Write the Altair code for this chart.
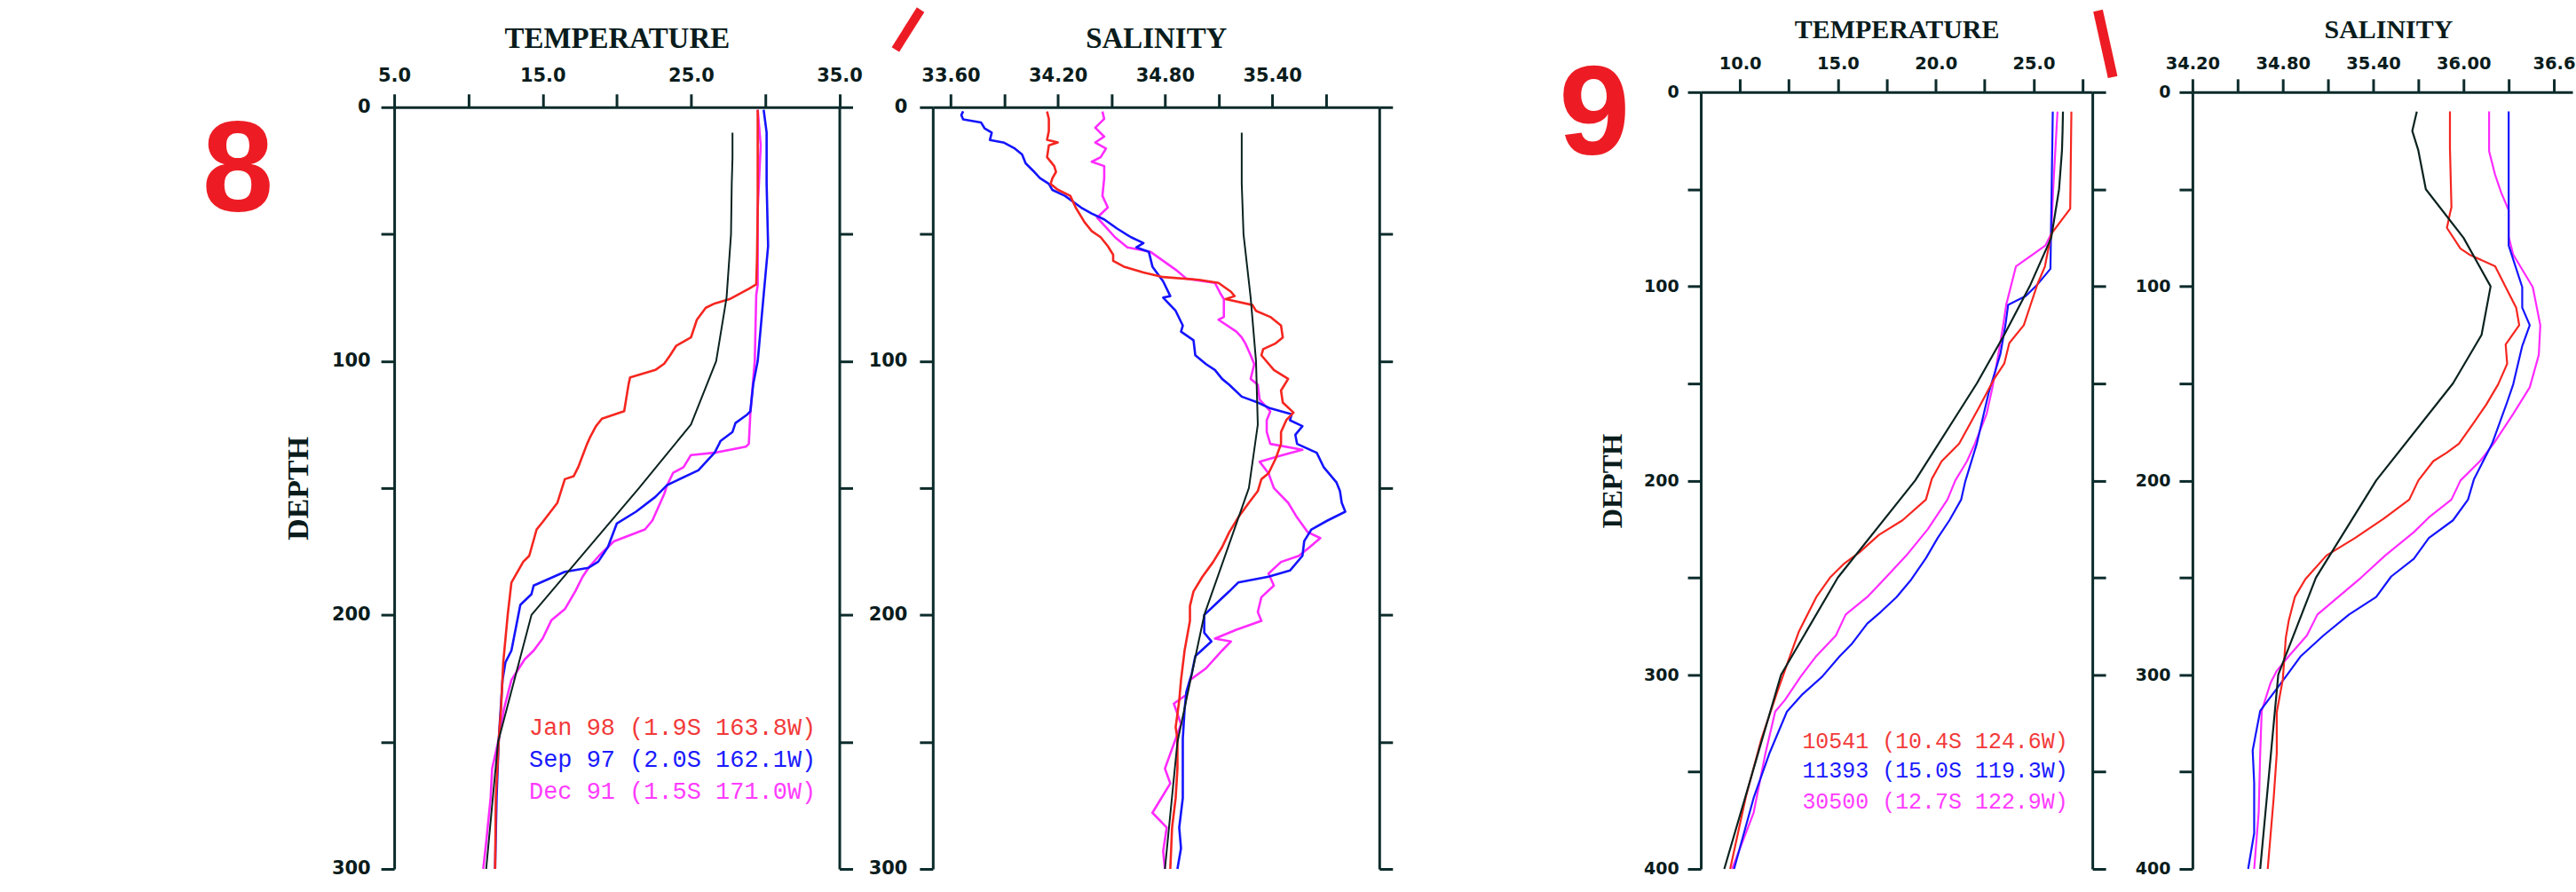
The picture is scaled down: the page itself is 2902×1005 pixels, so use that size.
import altair as alt
import pandas as pd

# ================= PANEL 8 (temperature / salinity vs depth, 0-300 m) =================
CLIM8_DEPTH = [10, 20, 30, 50, 75, 100, 125, 150, 200, 250, 300]
CLIM8_TEMP = [27.8, 27.8, 27.75, 27.7, 27.4, 26.7, 25.0, 21.5, 14.25, 12.0, 11.2]
CLIM8_SALT = [35.23, 35.23, 35.23, 35.24, 35.28, 35.31, 35.32, 35.27, 35.02, 34.87, 34.80]

T8_JAN98_DEPTH = [1, 20, 40, 60, 69.8, 71.5, 75.6, 77.3, 79, 83.7, 90.7, 94, 97.7, 101, 103.5, 106.4,
                  109, 119.7, 122.7, 125.6, 130, 132.6, 141.8, 145.3, 146.5, 155.8, 163.4, 166.3,
                  176.7, 179, 187.2, 200, 218.6, 237, 248.8, 272, 300]
T8_JAN98 = [29.5, 29.5, 29.5, 29.45, 29.4, 28.9, 27.6, 26.6, 26.0, 25.4, 25.0, 24.0, 23.6, 23.2, 22.6, 20.9,
            20.8, 20.5, 19.0, 18.6, 18.2, 18.0, 17.4, 17.1, 16.5, 16.0, 15.0, 14.6,
            14.1, 13.7, 12.9, 12.65, 12.35, 12.2, 12.05, 11.85, 11.8]

T8_SEP97_DEPTH = [1, 10, 30, 54.7, 74, 100, 109, 119.8, 121, 124.4, 127.9, 131.4, 132.6, 136, 143, 148.8,
                  153.5, 159.3, 164, 173.3, 179, 181.4, 183, 188.4, 191.8, 196, 202, 214, 218.6, 225.6,
                  248.8, 272, 300]
T8_SEP97 = [29.9, 30.1, 30.1, 30.2, 29.9, 29.5, 29.2, 29.0, 28.8, 28.0, 27.8, 27.0, 26.9, 26.6, 25.5, 23.4,
            22.6, 21.3, 20.0, 19.4, 18.75, 18.1, 16.5, 14.4, 14.25, 13.5, 13.3, 12.9, 12.5, 12.3,
            12.05, 11.9, 11.8]

T8_DEC91_DEPTH = [1, 15, 40, 70, 74, 100, 121, 132.6, 133.7, 136, 137, 141.8, 144, 148.8, 152.3, 162.8,
                  166.3, 171, 176.7, 181.4, 184.9, 190.7, 197.7, 202, 209.3, 214, 217.4, 225.6, 237,
                  248.8, 260.5, 272, 289.5, 300]
T8_DEC91 = [29.5, 29.7, 29.5, 29.5, 29.4, 29.3, 29.0, 28.9, 28.7, 26.7, 25.0, 24.5, 23.8, 23.4, 23.2, 22.4,
            21.9, 19.8, 18.8, 18.1, 17.7, 17.2, 16.5, 15.6, 15.0, 14.4, 13.8, 12.9, 12.4,
            12.05, 11.6, 11.5, 11.2, 11.0]

S8_JAN98_DEPTH = [1.7, 4.6, 9.3, 12.8, 13.9, 15.0, 19.7, 23.2, 25.5, 27.9, 30.2, 32.5, 34.9, 39.5, 45.3,
                  48.8, 51.2, 54.7, 58.1, 60.5, 62.8, 65.1, 66.9, 68.0, 69.2, 72.7, 74.4, 75.6, 77.9,
                  80.2, 82.6, 86.0, 90.7, 93.0, 95.3, 97.7, 103.5, 107.0, 111.6, 116.3, 120.3, 123.2,
                  127.9, 132.6, 138.4, 144.2, 146.5, 151.2, 155.8, 161.6, 167.4, 173.3, 179.1, 184.9,
                  190.7, 196.5, 202.3, 214.0, 225.6, 233.7, 244.2, 248.8, 260.5, 272.1, 283.7, 300]
S8_JAN98 = [34.14, 34.15, 34.15, 34.14, 34.20, 34.15, 34.14, 34.18, 34.19, 34.17, 34.16, 34.20, 34.27,
            34.30, 34.35, 34.39, 34.44, 34.48, 34.51, 34.51, 34.57, 34.68, 34.79, 34.99, 35.10, 35.17,
            35.19, 35.14, 35.29, 35.31, 35.39, 35.45, 35.46, 35.42, 35.35, 35.34, 35.41, 35.49, 35.45,
            35.46, 35.52, 35.48, 35.45, 35.45, 35.42, 35.38, 35.34, 35.32, 35.27, 35.21, 35.16, 35.12,
            35.07, 35.01, 34.96, 34.94, 34.94, 34.91, 34.89, 34.88, 34.86, 34.87, 34.87, 34.86, 34.84,
            34.83]

S8_SEP97_DEPTH = [1.6, 3.1, 4.8, 6.0, 8.3, 10.0, 12.9, 14.0, 16.3, 18.6, 22.1, 25.6, 27.9, 30.2, 32.6,
                  34.9, 39.5, 41.9, 44.2, 47.7, 51.2, 53.5, 55.2, 57.0, 62.8, 68.6, 74.4, 75.0, 80.2,
                  86.0, 88.4, 91.8, 97.7, 101.2, 103.5, 107.0, 109.3, 114.0, 116.3, 118.6, 120.9, 123.3,
                  125.6, 129.0, 132.6, 136.1, 141.9, 147.7, 151.2, 155.8, 159.3, 162.8, 166.3, 170.9,
                  176.7, 182.5, 184.9, 187.2, 190.7, 195.3, 200.0, 207.0, 210.4, 216.2, 223.2, 230.2,
                  237.2, 248.8, 260.5, 272.1, 283.7, 291.9, 300]
S8_SEP97 = [33.67, 33.66, 33.67, 33.77, 33.79, 33.83, 33.82, 33.90, 33.96, 34.00, 34.02, 34.07, 34.10,
            34.15, 34.17, 34.24, 34.33, 34.39, 34.46, 34.53, 34.61, 34.68, 34.64, 34.71, 34.73, 34.79,
            34.83, 34.79, 34.86, 34.90, 34.89, 34.96, 34.97, 35.03, 35.08, 35.12, 35.16, 35.23, 35.32,
            35.39, 35.51, 35.50, 35.57, 35.53, 35.54, 35.65, 35.69, 35.76, 35.78, 35.79, 35.81, 35.71,
            35.62, 35.58, 35.57, 35.50, 35.38, 35.21, 35.16, 35.09, 35.02, 35.02, 35.06, 34.97, 34.95,
            34.92, 34.91, 34.90, 34.90, 34.90, 34.88, 34.89, 34.87]

S8_DEC91_DEPTH = [1.7, 4.6, 8.1, 11.6, 13.9, 16.3, 19.7, 21.5, 23.2, 27.9, 34.9, 39.5, 43.5, 46.5, 51.2,
                  55.2, 57.0, 60.5, 64.0, 67.5, 69.2, 73.3, 75.6, 82.6, 83.7, 88.4, 90.7, 93.0, 97.7,
                  101.2, 107.0, 109.3, 115.1, 119.8, 123.3, 127.9, 132.6, 134.9, 137.2, 139.6, 144.2,
                  150.0, 155.8, 161.6, 167.4, 169.7, 173.3, 176.7, 179.1, 183.7, 188.4, 193.0, 198.8,
                  202.3, 205.8, 209.3, 210.4, 214.0, 221.0, 225.6, 231.4, 234.9, 243.0, 254.6, 260.5,
                  266.3, 277.9, 283.7, 293.0, 300]
S8_DEC91 = [34.45, 34.46, 34.41, 34.46, 34.41, 34.47, 34.44, 34.39, 34.46, 34.46, 34.45, 34.48, 34.42,
            34.46, 34.52, 34.59, 34.72, 34.79, 34.86, 34.92, 35.08, 35.11, 35.13, 35.13, 35.10, 35.20,
            35.23, 35.25, 35.28, 35.30, 35.28, 35.32, 35.33, 35.39, 35.37, 35.37, 35.39, 35.57, 35.45,
            35.33, 35.38, 35.41, 35.49, 35.54, 35.60, 35.67, 35.61, 35.55, 35.45, 35.38, 35.41, 35.34,
            35.32, 35.34, 35.20, 35.08, 35.17, 35.12, 35.03, 34.94, 34.92, 34.85, 34.89, 34.83, 34.80,
            34.83, 34.73, 34.81, 34.79, 34.80]

LEGEND8 = ["Jan 98 (1.9S 163.8W)", "Sep 97 (2.0S 162.1W)", "Dec 91 (1.5S 171.0W)"]

# ================= PANEL 9 (temperature / salinity vs depth, 0-400 m) =================
CLIM9_DEPTH = [10, 20, 30, 50, 75, 100, 125, 150, 200, 250, 300, 400]
CLIM9_TEMP = [26.5, 26.48, 26.45, 26.3, 25.9, 24.8, 23.5, 22.1, 18.95, 15.0, 12.1, 9.2]
CLIM9_SALT = [35.69, 35.66, 35.70, 35.75, 36.00, 36.18, 36.12, 35.93, 35.42, 35.02, 34.77, 34.65]

T9_10541_DEPTH = [10, 60, 73, 89.7, 98.8, 120, 129.2, 139.8, 147.4, 162.6, 181, 190.1, 199.2, 209.8,
                  220.5, 228, 237, 243, 250, 260, 278, 292, 309, 333, 363, 400]
T9_10541 = [26.93, 26.87, 25.9, 25.58, 25.2, 24.5, 23.76, 23.5, 23.0, 22.2, 21.2, 20.3, 19.8, 19.5,
            18.3, 17.1, 16.1, 15.3, 14.6, 13.9, 13.0, 12.5, 11.9, 11.1, 10.3, 9.5]

T9_11393_DEPTH = [10, 91, 99, 105, 109.5, 120, 135, 155, 181, 200.8, 209.8, 220.5, 229.6, 240, 251, 260,
                  267.6, 273.7, 284.3, 290.4, 301, 310, 319, 340.6, 363.4, 400]
T9_11393 = [25.98, 25.86, 25.2, 24.6, 23.7, 23.56, 23.3, 22.7, 22.1, 21.5, 21.3, 20.7, 20.1, 19.5, 18.75,
            18.0, 17.2, 16.5, 15.7, 15.1, 14.2, 13.2, 12.4, 11.5, 10.7, 9.7]

T9_30500_DEPTH = [10, 50, 73, 79, 89.7, 109.5, 123, 135, 152, 165.7, 181, 190, 200, 209.8, 225, 238.6,
                  249.4, 260, 269, 279.8, 290.4, 301, 313, 319, 340.6, 371, 400]
T9_30500 = [26.22, 26.0, 25.9, 25.6, 24.1, 23.6, 23.4, 23.2, 22.9, 22.6, 22.0, 21.6, 21.0, 20.6, 19.6,
            18.5, 17.5, 16.5, 15.4, 14.9, 13.9, 13.1, 12.3, 11.8, 11.3, 10.7, 9.6]

S9_10541_DEPTH = [9.9, 28.9, 59.3, 62.5, 69.9, 80.6, 83.7, 89.7, 101.9, 111, 120, 130, 139.9, 150.5, 161,
                  170, 181, 185.6, 190, 200, 209.8, 219.6, 229.6, 238.6, 250.8, 260, 272, 281, 302.5,
                  319.3, 340.6, 363, 400]
S9_10541 = [35.91, 35.91, 35.92, 35.91, 35.89, 35.98, 36.04, 36.21, 36.29, 36.35, 36.37, 36.28, 36.29,
            36.23, 36.15, 36.07, 35.97, 35.89, 35.80, 35.70, 35.64, 35.47, 35.28, 35.09, 34.95, 34.88,
            34.84, 34.82, 34.80, 34.76, 34.76, 34.74, 34.70]

S9_11393_DEPTH = [9.9, 59.3, 79, 100.4, 111, 120, 130.7, 150.5, 159.6, 181, 199.2, 209.8, 220.5, 229.6,
                  240.3, 249.4, 260, 269, 279.8, 290.4, 301, 318.6, 339, 355.8, 381.6, 400]
S9_11393 = [36.30, 36.30, 36.30, 36.39, 36.39, 36.44, 36.39, 36.33, 36.29, 36.19, 36.07, 36.03, 35.93,
            35.77, 35.67, 35.52, 35.42, 35.24, 35.07, 34.92, 34.82, 34.65, 34.60, 34.61, 34.61, 34.57]

S9_30500_DEPTH = [9.9, 25.9, 30.4, 42.6, 51.7, 60.8, 74.5, 83.6, 100.4, 120, 135.3, 152, 165.7, 181, 190,
                  200, 209.8, 219, 226.6, 238.6, 250, 269, 279.8, 290.4, 298, 304, 318.6, 340.6, 371, 400]
S9_30500 = [36.17, 36.17, 36.17, 36.21, 36.25, 36.30, 36.30, 36.33, 36.46, 36.51, 36.50, 36.44, 36.33,
            36.20, 36.11, 35.98, 35.92, 35.77, 35.67, 35.48, 35.32, 35.03, 34.96, 34.84, 34.76, 34.72,
            34.66, 34.65, 34.64, 34.61]

LEGEND9 = ["10541 (10.4S 124.6W)", "11393 (15.0S 119.3W)", "30500 (12.7S 122.9W)"]

# ================= axes =================
TEMP8_TICKS = [5, 10, 15, 20, 25, 30, 35]
TEMP8_LABELS = ["5.0", "15.0", "25.0", "35.0"]
SALT8_TICKS = [33.6, 33.9, 34.2, 34.5, 34.8, 35.1, 35.4, 35.7]
SALT8_LABELS = ["33.60", "34.20", "34.80", "35.40"]
TEMP9_TICKS = [10, 12.5, 15, 17.5, 20, 22.5, 25, 27.5]
TEMP9_LABELS = ["10.0", "15.0", "20.0", "25.0"]
SALT9_TICKS = [34.2, 34.5, 34.8, 35.1, 35.4, 35.7, 36.0, 36.3, 36.6]
SALT9_LABELS = ["34.20", "34.80", "35.40", "36.00", "36.6"]   # last one is cut by the picture's edge
DEPTH8_TICKS = [0, 50, 100, 150, 200, 250, 300]
DEPTH9_TICKS = [0, 50, 100, 150, 200, 250, 300, 350, 400]

# ================= style =================
AXIS_COLOR = "#0c2b2b"
TEXT_COLOR = "#0a1c1c"
LINE_COLORS = {"red": "#f5261f", "blue": "#1414ff", "magenta": "#ff2bff"}
LEGEND_COLORS = ["#f23a3a", "#1a1aff", "#ff3cff"]
CLIM_COLOR = "#0b2320"
NUM_RED = "#ed1c24"
ONE = pd.DataFrame({"k": [0]})


def long_df(series):
    rows = []
    for name, depths, vals in series:
        assert len(depths) == len(vals), name
        for d, v in zip(depths, vals):
            rows.append({"series": name, "depth": d, "value": v})
    return pd.DataFrame(rows)


def label_expr(labels, fmt):
    # formatted tick value -> shown label; blank for unlabelled ticks
    parts = []
    for lab in labels:
        key = format(float(lab), fmt)
        parts.append("format(datum.value, '%s') == '%s' ? '%s'" % (fmt, key, lab))
    return " : ".join(parts) + " : ''"


def common_axis(label_size):
    return dict(domainColor=AXIS_COLOR, domainWidth=3, tickColor=AXIS_COLOR, tickWidth=3, tickSize=15,
                grid=False, labelFlush=False, labelOverlap=False, labelFont="DejaVu Sans",
                labelFontWeight="bold", labelColor=TEXT_COLOR, labelFontSize=label_size,
                titleFont="Liberation Serif", titleFontWeight="bold", titleColor=TEXT_COLOR)


def make_panel(series, clim_depth, clim_vals, xdom, xticks, xlabels, xfmt, dmax, dticks, yrange,
               width, height, st, extras, right_axis=True):
    df = long_df(series)
    clim = pd.DataFrame({"depth": clim_depth, "value": clim_vals})
    xscale = alt.Scale(domain=xdom, nice=False, zero=False)
    yscale = alt.Scale(domain=[0, dmax], range=yrange, nice=False, zero=False)
    cx = common_axis(st["xlabel_size"])
    cy = common_axis(st["ylabel_size"])

    def x_axis():
        return alt.Axis(orient="top", offset=st["x_offset"], values=xticks,
                        labelExpr=label_expr(xlabels, xfmt), labelPadding=st["xlabel_pad"],
                        labelBaseline="alphabetic", title=st["title"], titleFontSize=st["title_size"],
                        titleX=st.get("title_x", width / 2), titleY=st["title_y"], titleAlign="center",
                        titleBaseline="alphabetic", **cx)

    def y_axis():
        ykw = dict(orient="left", values=dticks,
                   labelExpr="datum.value % 100 == 0 ? format(datum.value, 'd') : ''",
                   labelPadding=st["ylabel_pad"], **cy)
        if st.get("depth_title"):
            ykw.update(title=st["depth_title"], titleFontSize=st["depth_title_size"], titleAngle=270,
                       titleX=st["depth_title_x"], titleY=(yrange[0] + yrange[1]) / 2,
                       titleAlign="center", titleBaseline="middle")
        else:
            ykw.update(title="")
        return alt.Axis(**ykw)

    names = ["magenta", "blue", "red"]
    lines = alt.Chart(df).mark_line(strokeWidth=st["lw"], strokeJoin="round").encode(
        x=alt.X("value:Q", scale=xscale, axis=x_axis()),
        y=alt.Y("depth:Q", scale=yscale, axis=y_axis()),
        color=alt.Color("series:N", scale=alt.Scale(domain=names, range=[LINE_COLORS[n] for n in names]),
                        legend=None),
        order=alt.Order("depth:Q"),
    )
    black = alt.Chart(clim).mark_line(strokeWidth=st["clim_lw"], color=CLIM_COLOR, strokeJoin="round").encode(
        x=alt.X("value:Q", scale=xscale, axis=x_axis()),
        y=alt.Y("depth:Q", scale=yscale, axis=y_axis()),
        order=alt.Order("depth:Q"),
    )
    inner = alt.layer(lines, black, *extras)
    if not right_axis:
        return inner.properties(width=width, height=height)
    right = alt.Chart(pd.DataFrame({"depth": [0, dmax]})).mark_point(opacity=0).encode(
        y=alt.Y("depth:Q", scale=yscale,
                axis=alt.Axis(orient="right", values=dticks, labels=False, title="", **cy))
    )
    return alt.layer(inner, right).resolve_scale(y="independent").properties(width=width, height=height)


def legend_layers(texts, x, ys, size):
    out = []
    for t, y, c in zip(texts, ys, LEGEND_COLORS):
        out.append(
            alt.Chart(pd.DataFrame({"t": [t]})).mark_text(
                align="left", baseline="alphabetic", font="Liberation Mono", fontSize=size, color=c
            ).encode(x=alt.value(x), y=alt.value(y), text="t:N")
        )
    return out


def numeral(txt, x, y, size):
    return alt.Chart(ONE).mark_text(text=txt, font="Liberation Sans", fontWeight="bold", fontSize=size,
                                    color=NUM_RED, align="center", baseline="alphabetic").encode(
        x=alt.value(x), y=alt.value(y))


def slash(x1, y1, x2, y2, w):
    return alt.Chart(ONE).mark_rule(color=NUM_RED, strokeWidth=w).encode(
        x=alt.value(x1), y=alt.value(y1), x2=alt.value(x2), y2=alt.value(y2))


anchor = alt.Chart(ONE).mark_rule(color="white", strokeWidth=0).encode(
    x=alt.value(-444.5), y=alt.value(-103), x2=alt.value(-444.5), y2=alt.value(-103))

H = 877
ST8T = dict(title="TEMPERATURE", title_size=33, title_y=-67.3, x_offset=-17, xlabel_size=21, xlabel_pad=14,
            ylabel_size=21, ylabel_pad=12, depth_title="DEPTH", depth_title_size=34, depth_title_x=-108,
            lw=2.6, clim_lw=2)
ST8S = dict(ST8T, title="SALINITY", depth_title=None, ylabel_pad=14)
ST9T = dict(title="TEMPERATURE", title_size=30, title_y=-61.3, x_offset=0, xlabel_size=19.5, xlabel_pad=11,
            ylabel_size=19, ylabel_pad=10, depth_title="DEPTH", depth_title_size=31, depth_title_x=-98.5,
            lw=2.2, clim_lw=2.2)
ST9S = dict(ST9T, title="SALINITY", depth_title=None, title_x=221)

P4_WIDTH = 429          # the reference picture ends inside this panel
SALT9_MAX = 34.2 + 0.3 * P4_WIDTH / 51.0

p1 = make_panel(
    [("magenta", T8_DEC91_DEPTH, T8_DEC91), ("blue", T8_SEP97_DEPTH, T8_SEP97), ("red", T8_JAN98_DEPTH, T8_JAN98)],
    CLIM8_DEPTH, CLIM8_TEMP, [5, 35], TEMP8_TICKS, TEMP8_LABELS, ".1f", 300, DEPTH8_TICKS, [17, H],
    502.5, H, ST8T,
    [anchor, numeral("8", -176.5, 134, 145)] + legend_layers(LEGEND8, 152.2, [726, 762, 798], 27),
)
p2 = make_panel(
    [("magenta", S8_DEC91_DEPTH, S8_DEC91), ("blue", S8_SEP97_DEPTH, S8_SEP97), ("red", S8_JAN98_DEPTH, S8_JAN98)],
    CLIM8_DEPTH, CLIM8_SALT, [33.5, 36.0], SALT8_TICKS, SALT8_LABELS, ".2f", 300, DEPTH8_TICKS, [17, H],
    504, H, ST8S,
    [slash(-13.8, -93, -42.1, -48, 10)],
)
p3 = make_panel(
    [("magenta", T9_30500_DEPTH, T9_30500), ("blue", T9_11393_DEPTH, T9_11393), ("red", T9_10541_DEPTH, T9_10541)],
    CLIM9_DEPTH, CLIM9_TEMP, [8, 28], TEMP9_TICKS, TEMP9_LABELS, ".1f", 400, DEPTH9_TICKS, [0, H],
    442, H, ST9T,
    [numeral("9", -120, 70, 144), slash(448.4, -92, 465, -17, 11)]
    + legend_layers(LEGEND9, 114.6, [740.3, 773.7, 808.7], 25),
)
p4 = make_panel(
    [("magenta", S9_30500_DEPTH, S9_30500), ("blue", S9_11393_DEPTH, S9_11393), ("red", S9_10541_DEPTH, S9_10541)],
    CLIM9_DEPTH, CLIM9_SALT, [34.2, SALT9_MAX], SALT9_TICKS, SALT9_LABELS, ".2f", 400, DEPTH9_TICKS, [0, H],
    P4_WIDTH, H, ST9S,
    [], right_axis=False,
)


def spacer(w):
    return alt.Chart(ONE).mark_point(opacity=0).encode(
        x=alt.X("k:Q", axis=None), y=alt.Y("k:Q", axis=None)).properties(width=w, height=H)


chart = alt.hconcat(p1, spacer(104.5), p2, spacer(362.5), p3, spacer(113), p4,
                    spacing=0, bounds="flush").properties(padding=0, background="white").configure_view(stroke=None)

chart.save("out.html", embed_options={"renderer": "svg", "actions": False})
